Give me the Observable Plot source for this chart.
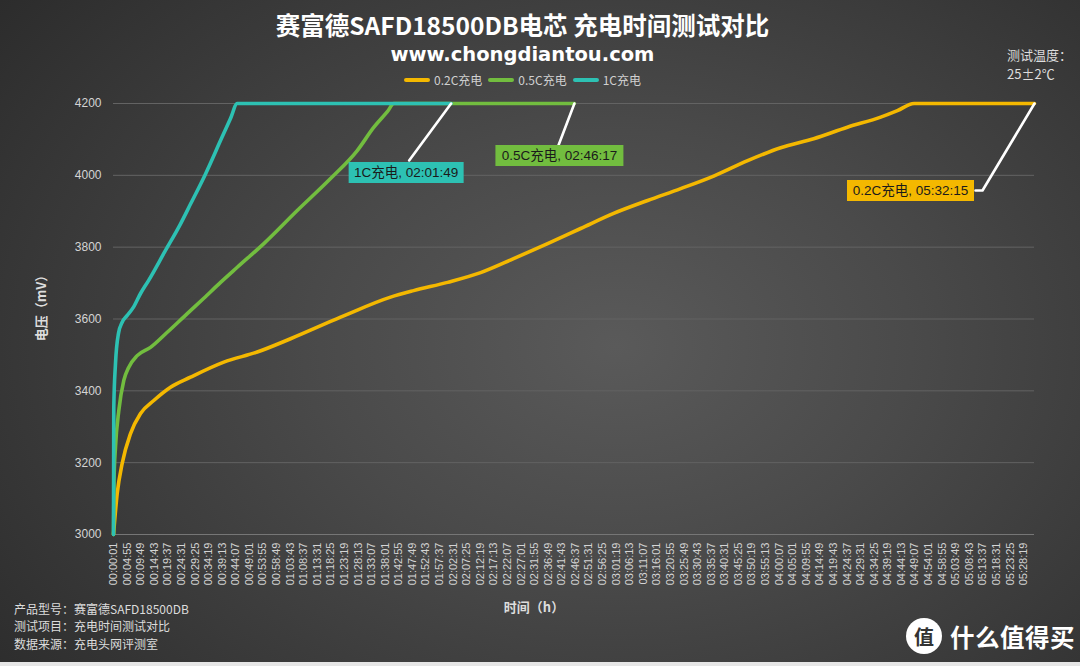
<!DOCTYPE html>
<html><head><meta charset="utf-8">
<script src="https://cdn.jsdelivr.net/npm/d3@7"></script>
<script src="https://cdn.jsdelivr.net/npm/@observablehq/plot@0.6"></script>
<style>
html,body{margin:0;padding:0;}
body{width:1080px;height:666px;overflow:hidden;position:relative;
 background:radial-gradient(ellipse 72% 85% at 57% 52%, #5a5a5a 0%, #4a4a4a 38%, #2c2c2c 100%);
 font-family:"Noto Sans CJK SC","Noto Sans",sans-serif;color:#ddd;}
#chart{position:absolute;left:0;top:0;}
.abs{position:absolute;white-space:nowrap;}
.ctr{left:0;width:1045px;text-align:center;}
#title{top:7px;font-size:24.5px;font-weight:bold;color:#fff;line-height:36px;}
#sub{top:43px;font-size:19.5px;font-weight:bold;color:#fff;line-height:23px;font-family:"DejaVu Sans","Noto Sans",sans-serif;}
#legend{top:71px;display:flex;justify-content:center;align-items:center;gap:4px;font-size:12px;color:#d0d0d0;height:17px;}
#legend .sw{display:inline-block;width:26px;height:4px;border-radius:2px;margin-right:4px;}
#legend .it{display:flex;align-items:center;margin:0 1px;}
#temp1{left:1007px;top:45px;font-size:13px;line-height:19px;color:#ddd;}
#temp2{left:1007px;top:64px;font-size:13px;line-height:19px;color:#ddd;}
.info{left:14px;font-size:12px;line-height:17.4px;color:#dcdcdc;}
#ylab{left:40px;top:305px;font-size:13px;font-weight:bold;color:#ddd;transform:translate(-50%,-50%) rotate(-90deg);}
#xlab{left:534px;top:606px;font-size:13px;font-weight:bold;color:#ddd;transform:translate(-50%,-50%);}
#wm{left:906px;top:618px;display:flex;align-items:center;gap:8px;color:#fff;}
#wm .logo{width:36px;height:36px;border-radius:50%;background:#fff;color:#333;font-weight:bold;font-size:20px;display:flex;align-items:center;justify-content:center;}
#wm .txt{font-size:24.5px;font-weight:bold;letter-spacing:0.5px;}
#strip{left:0;top:662px;width:1080px;height:4px;background:#e6e6e6;}
</style></head><body>
<div id="chart"></div>
<div id="title" class="abs ctr">赛富德SAFD18500DB电芯 充电时间测试对比</div>
<div id="sub" class="abs ctr">www.chongdiantou.com</div>
<div id="legend" class="abs ctr"></div>
<div id="temp1" class="abs">测试温度：</div>
<div id="temp2" class="abs">25±2℃</div>
<div class="abs info" style="top:600px">产品型号：赛富德SAFD18500DB</div>
<div class="abs info" style="top:617.4px">测试项目：充电时间测试对比</div>
<div class="abs info" style="top:634.8px">数据来源：充电头网评测室</div>
<div id="ylab" class="abs">电压（mV）</div>
<div id="xlab" class="abs">时间（h）</div>
<div id="wm" class="abs"><div class="logo">值</div><div class="txt">什么值得买</div></div>
<div id="strip" class="abs"></div>
<script>
// ---- data ----
const seriesNames = ["0.2C充电", "0.5C充电", "1C充电"];
const seriesColors = ["#F4B800", "#72BD3F", "#2DC1B3"];

// time in seconds, voltage in mV
const t02 = [1,81,189,369,586,873,1235,1668,2389,3112,3833,4916,5998,6496,7232,7947,8661,9397,10112,10826,11562,12277,12991,13727,14442,15156,15886,16607,16968,17328,19935];
const v02 = [3000,3114,3198,3281,3337,3373,3410,3438,3480,3508,3545,3605,3661,3679,3702,3729,3768,3810,3852,3894,3930,3963,3998,4041,4077,4102,4134,4162,4180,4200,4200];
const t05 = [1,12,44,116,224,332,514,802,1164,1597,1950,2318,2679,3255,3978,4699,5277,5637,5933,6070,9977];
const v05 = [3000,3150,3243,3345,3429,3466,3498,3521,3563,3615,3657,3702,3744,3810,3902,3991,4069,4134,4178,4200,4200];
const t1 = [1,7,44,109,189,298,434,586,759,1105,1452,1668,1993,2339,2536,2679,7309];
const v1 = [3000,3354,3476,3560,3591,3610,3633,3671,3707,3786,3865,3920,4004,4103,4159,4200,4200];

const annLabels = ["0.2C充电, 05:32:15", "0.5C充电, 02:46:17", "1C充电, 02:01:49"];

const yTicks = [3000,3200,3400,3600,3800,4000,4200];
const xTickLabels = ["00:00:01","00:04:55","00:09:49","00:14:43","00:19:37","00:24:31","00:29:25","00:34:19","00:39:13","00:44:07","00:49:01","00:53:55","00:58:49",
"01:03:43","01:08:37","01:13:31","01:18:25","01:23:19","01:28:13","01:33:07","01:38:01","01:42:55","01:47:49","01:52:43","01:57:37",
"02:02:31","02:07:25","02:12:19","02:17:13","02:22:07","02:27:01","02:31:55","02:36:49","02:41:43","02:46:37","02:51:31","02:56:25",
"03:01:19","03:06:13","03:11:07","03:16:01","03:20:55","03:25:49","03:30:43","03:35:37","03:40:31","03:45:25","03:50:19","03:55:13",
"04:00:07","04:05:01","04:09:55","04:14:49","04:19:43","04:24:37","04:29:31","04:34:25","04:39:19","04:44:13","04:49:07","04:54:01","04:58:55",
"05:03:49","05:08:43","05:13:37","05:18:31","05:23:25","05:28:19"];

// ---- build ----
const toSec = s => { const [h, m, x] = s.split(":").map(Number); return h * 3600 + m * 60 + x; };
const xTickSec = xTickLabels.map(toSec);
const labelBySec = new Map(xTickLabels.map(s => [toSec(s), s]));

const tArr = [t02, t05, t1], vArr = [v02, v05, v1];
const data = seriesNames.flatMap((name, k) => tArr[k].map((t, i) => ({series: name, t, v: vArr[k][i]})));
const ends = seriesNames.map((name, k) => ({series: name, t: tArr[k][tArr[k].length - 1], v: vArr[k][vArr[k].length - 1], label: annLabels[k], color: seriesColors[k]}));

// legend
const leg = document.getElementById("legend");
seriesNames.forEach((n, k) => {
  const it = document.createElement("span"); it.className = "it";
  it.innerHTML = `<span class="sw" style="background:${seriesColors[k]}"></span>${n}`;
  leg.appendChild(it);
});

const box = (w, h) => ({draw(ctx) { ctx.rect(-w / 2, -h / 2, w, h); }});
const leader = pts => ({draw(ctx) { ctx.moveTo(0, 0); for (const [x, y] of pts) ctx.lineTo(x, y); }});

// per-annotation styling: leader path, box offset and width (pixels)
const annStyle = [
  {path: [[-52, 87], [-59, 87]], dx: -124, dy: 87, w: 127},
  {path: [[-16, 42]], dx: -15, dy: 52, w: 128},
  {path: [[-42, 57]], dx: -45, dy: 69, w: 115}
];

const annMarks = ends.flatMap((e, k) => {
  const s = annStyle[k];
  return [
    Plot.vector([e], {x: "t", y: "v", anchor: "start", length: 10, rotate: 0, shape: leader(s.path), stroke: "#ffffff", strokeWidth: 2.6}),
    Plot.dot([e], {x: "t", y: "v", dx: s.dx, dy: s.dy, symbol: box(s.w, 21), r: 5, fill: e.color, stroke: "none"}),
    Plot.text([e], {x: "t", y: "v", dx: s.dx, dy: s.dy, text: "label", fill: "#1b1b1b", fontSize: 13.5, textAnchor: "middle", lineAnchor: "middle"})
  ];
});

const plot = Plot.plot({
  width: 1080, height: 620,
  marginLeft: 113, marginRight: 46, marginTop: 103, marginBottom: 86,
  style: {background: "transparent", color: "#d4d4d4", fontFamily: "'Liberation Sans','Noto Sans CJK SC',sans-serif"},
  x: {domain: [1, 19935]},
  y: {domain: [3000, 4200]},
  color: {domain: seriesNames, range: seriesColors},
  marks: [
    Plot.gridY(yTicks, {stroke: "#636363", strokeOpacity: 1, strokeWidth: 1}),
    Plot.ruleY([3000], {stroke: "#767676", strokeWidth: 1.2}),
    Plot.axisY(yTicks, {tickSize: 0, tickPadding: 12, fontSize: 12, label: null, tickFormat: d => String(d)}),
    Plot.axisX(xTickSec, {tickSize: 0, tickPadding: 8, tickRotate: -90, fontSize: 11, label: null, tickFormat: s => labelBySec.get(s)}),
    Plot.line(data, {x: "t", y: "v", z: "series", stroke: "series", strokeWidth: 3.6, curve: "monotone-x"}),
    ...annMarks
  ]
});
document.getElementById("chart").appendChild(plot);
</script>
</body></html>
